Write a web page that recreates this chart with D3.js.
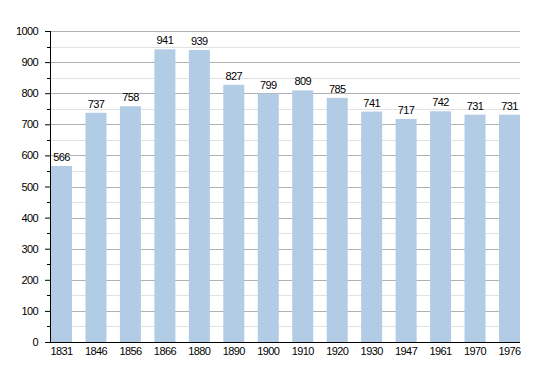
<!DOCTYPE html>
<html lang="fr">
<head>
    <meta charset="utf-8">
    <title>Population</title>
    <script src="https://d3js.org/d3.v7.min.js"></script>
    <style>
        body { margin: 0; background: #fff; }
        text { font-family: "Liberation Sans", Arial, sans-serif; font-size: 11px; letter-spacing: -0.6px; fill: #000; }
    </style>
</head>
<body>
<svg width="550" height="373"></svg>
<script>
    var years = ["1831","1846","1856","1866","1880","1890","1900","1910","1920","1930","1947","1961","1970","1976"];
    var population = [566,737,758,941,939,827,799,809,785,741,717,742,731,731];
    var majorTicks = [0,100,200,300,400,500,600,700,800,900,1000];
    var minorTicks = [50,150,250,350,450,550,650,750,850,950];

    var marge = {top:31, bottom:30, left:50, right:30};
    var svg = d3.select("svg");
    var width = +svg.attr("width");
    var height = +svg.attr("height");
    var innerW = width - marge.left - marge.right;
    var innerH = height - marge.top - marge.bottom - 1;

    var g = svg.append("g")
        .attr("transform","translate("+marge.left+","+marge.top+")");

    var xScale = d3.scaleBand()
        .domain(years)
        .range([1, innerW])
        .paddingInner(0.39)
        .paddingOuter(0);

    var yScale = d3.scaleLinear()
        .domain([0,1000])
        .range([innerH,0]);

    // grid lignes mineures
    g.selectAll(".minor")
        .data(minorTicks)
        .enter()
        .append("line")
        .attr("x1",0).attr("x2",innerW)
        .attr("y1",function(d){ return Math.round(yScale(d))+0.5; })
        .attr("y2",function(d){ return Math.round(yScale(d))+0.5; })
        .attr("stroke","#e2e2e2");

    // grid lignes majeures
    g.selectAll(".major")
        .data(majorTicks.slice(1))
        .enter()
        .append("line")
        .attr("x1",0).attr("x2",innerW)
        .attr("y1",function(d){ return Math.round(yScale(d))+0.5; })
        .attr("y2",function(d){ return Math.round(yScale(d))+0.5; })
        .attr("stroke","#b0b0b0");

    // barres
    g.selectAll(".bar")
        .data(population)
        .enter()
        .append("rect")
        .attr("x",function(d,i){ return xScale(years[i]); })
        .attr("y",function(d){ return yScale(d); })
        .attr("width",xScale.bandwidth())
        .attr("height",function(d){ return innerH - yScale(d); })
        .attr("fill","#b3cce6");

    g.selectAll(".val")
        .data(population)
        .enter()
        .append("text")
        .attr("x",function(d,i){ return xScale(years[i]) + xScale.bandwidth()/2; })
        .attr("y",function(d){ return yScale(d) - 5; })
        .attr("text-anchor","middle")
        .text(function(d){ return d; });

    // axe y
    var yAxis = d3.axisLeft(yScale)
        .tickValues(majorTicks)
        .tickFormat(d3.format("d"))
        .tickSize(5)
        .tickPadding(7);
    var ya = g.append("g").call(yAxis);
    ya.select(".domain").remove();
    ya.selectAll("line").attr("stroke","#000");
    ya.selectAll("text").style("font-size","11px").attr("font-family",null);

    g.selectAll(".minortick")
        .data(minorTicks)
        .enter()
        .append("line")
        .attr("x1",-3).attr("x2",0)
        .attr("y1",function(d){ return Math.round(yScale(d))+0.5; })
        .attr("y2",function(d){ return Math.round(yScale(d))+0.5; })
        .attr("stroke","#000");

    g.append("line")
        .attr("x1",0.5).attr("x2",0.5)
        .attr("y1",0).attr("y2",innerH)
        .attr("stroke","#000");

    // axe x
    var xAxis = d3.axisBottom(xScale).tickSize(0).tickPadding(5);
    var xa = g.append("g")
        .attr("transform","translate(0,"+innerH+")")
        .call(xAxis);
    xa.select(".domain").remove();
    xa.selectAll("text").style("font-size","11px");
    xa.attr("font-family",null);
    ya.attr("font-family",null);
    g.append("line")
        .attr("x1",-5).attr("x2",innerW)
        .attr("y1",innerH+0.5).attr("y2",innerH+0.5)
        .attr("stroke","#000");
</script>
</body>
</html>
